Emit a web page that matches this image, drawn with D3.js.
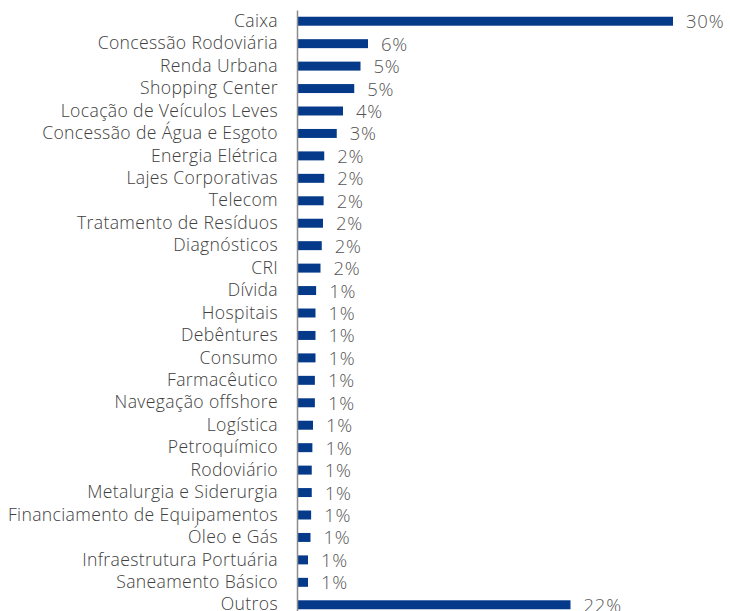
<!DOCTYPE html>
<html>
<head>
<meta charset="utf-8">
<script src="https://cdn.jsdelivr.net/npm/d3@7"></script>
<style>
  body { margin: 0; background: #fff; }
  svg { display: block; }
</style>
</head>
<body>
<svg width="730" height="611"></svg>
<script>
var categories = [
  "Caixa", "Concessão Rodoviária", "Renda Urbana", "Shopping Center",
  "Locação de Veículos Leves", "Concessão de Água e Esgoto", "Energia Elétrica",
  "Lajes Corporativas", "Telecom", "Tratamento de Resíduos", "Diagnósticos", "CRI",
  "Dívida", "Hospitais", "Debêntures", "Consumo", "Farmacêutico",
  "Navegação offshore", "Logística", "Petroquímico", "Rodoviário",
  "Metalurgia e Siderurgia", "Financiamento de Equipamentos", "Óleo e Gás",
  "Infraestrutura Portuária", "Saneamento Básico", "Outros"
];

// % of portfolio
var values = [
  30.0, 5.6, 5.0, 4.5,
  3.6, 3.1, 2.1,
  2.1, 2.05, 2.0, 1.9, 1.8,
  1.45, 1.4, 1.4, 1.4, 1.35,
  1.35, 1.2, 1.15, 1.1,
  1.1, 1.05, 1.0,
  0.8, 0.8, 21.8
];

var labels = values.map(function(v) { return Math.round(v) + "%"; });

var svg = d3.select("svg"),
    width = +svg.attr("width"),
    height = +svg.attr("height");

var x0 = 298;

var x = d3.scaleLinear()
    .domain([0, 30])
    .range([x0, 673]);

var y = d3.scaleBand()
    .domain(categories)
    .range([10, 616])
    .paddingInner(0.6)
    .paddingOuter(0.3);

var data = categories.map(function(c, i) { return {cat: c, value: values[i], label: labels[i]}; });

// bars
svg.append("g").selectAll("rect")
  .data(data)
  .enter().append("rect")
    .attr("x", x(0))
    .attr("y", d => y(d.cat))
    .attr("width", d => x(d.value) - x(0))
    .attr("height", y.bandwidth())
    .attr("fill", "#053a8b");

// category axis
var yAxis = svg.append("g")
    .attr("transform", "translate(" + (x0 - 1) + ",0)")
    .call(d3.axisLeft(y).tickSize(0).tickPadding(19));
yAxis.select(".domain").attr("stroke", "#8c8c8c").attr("stroke-width", 1.5);
yAxis.selectAll("text")
    .attr("fill", "#404040")
    .style("font-family", "'Open Sans', sans-serif")
    .style("font-weight", 300)
    .style("letter-spacing", "0.35px")
    .style("font-size", "17.6px");

// value labels
svg.append("g").selectAll("text")
  .data(data)
  .enter().append("text")
    .attr("x", d => x(d.value) + 13)
    .attr("y", d => y(d.cat) + y.bandwidth() / 2)
    .attr("dy", "0.38em")
    .attr("fill", "#555555")
    .style("font-family", "'Open Sans', sans-serif")
    .style("font-weight", 300)
    .style("letter-spacing", "0.8px")
    .style("font-size", "18.5px")
    .text(d => d.label);
</script>
</body>
</html>
